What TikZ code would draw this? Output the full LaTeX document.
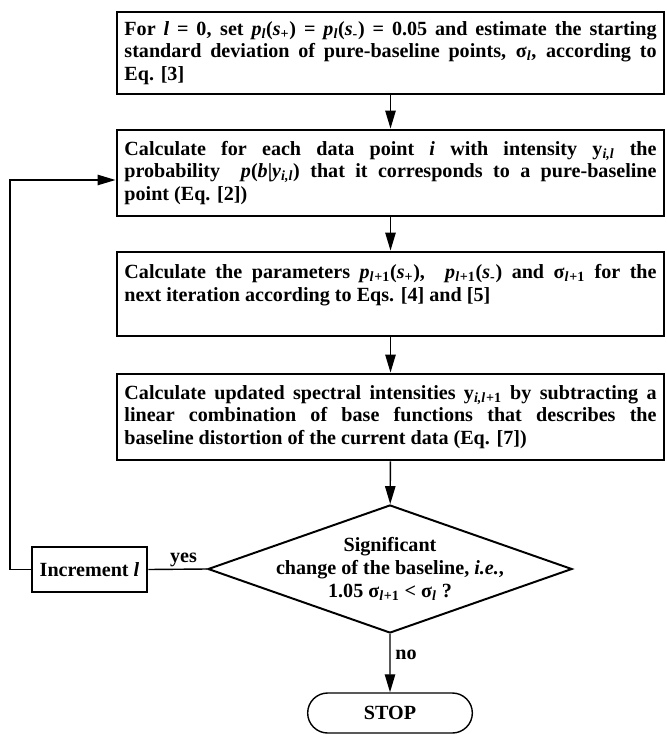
\documentclass[tikz,border=0pt]{standalone}
\usepackage{fontspec}
\setmainfont{Liberation Serif}
\usetikzlibrary{arrows.meta,shapes.geometric,shapes.misc}
\newcommand{\ix}[1]{\textit{#1}}
\newcommand{\sub}[1]{\textsubscript{\textit{#1}}}

\begin{document}
\begin{tikzpicture}[x=0.025cm,y=-0.025cm,
    every node/.style={font=\fontsize{14.3}{16.2}\selectfont\bfseries},
    stepbox/.style={draw,line width=2pt,minimum width=13.675cm,text width=13.3cm,
        inner xsep=0.1875cm,align=justify},
    flow/.style={line width=1pt,-{Triangle[length=0.45cm,width=0.26cm]}},
    link/.style={line width=1pt}]
        \useasboundingbox (0,0) rectangle (666,734);
        \node[stepbox,minimum height=2.05cm] (init) at (390.5,53)
            {For \ix{l} = 0, set \ix{p}\sub{l}(\ix{s}\textsubscript{+}) = \ix{p}\sub{l}(\ix{s}\textsubscript{-}) = 0.05 and estimate the starting\linebreak
             standard deviation of pure-baseline points, σ\sub{l}, according to\linebreak
             Eq. [3]};
        \node[stepbox,minimum height=2.15cm] (prob) at (390.5,173)
            {Calculate for each data point \ix{i} with intensity y\sub{i,l} the\linebreak
             probability \ \ix{p}(\ix{b}|\ix{y}\sub{i,l}) that it corresponds to a pure-baseline\linebreak
             point (Eq. [2])};
        \node[stepbox,minimum height=2.1cm] (param) at (390.5,294)
            {Calculate the parameters \ix{p}\sub{l}\textsubscript{+1}(\ix{s}\textsubscript{+}), \ \ix{p}\sub{l}\textsubscript{+1}(\ix{s}\textsubscript{-}) and σ\sub{l}\textsubscript{+1} for the\linebreak
             next iteration according to Eqs. [4] and [5]\par\mbox{}};
        \node[stepbox,minimum height=2.15cm] (update) at (390.5,417)
            {Calculate updated spectral intensities y\sub{i,l}\textsubscript{+1} by subtracting a\linebreak
             linear combination of base functions that describes the\linebreak
             baseline distortion of the current data (Eq. [7])};
        \node[draw,diamond,line width=1.4pt,aspect=2.84,inner sep=-0.3cm,
            minimum width=9.1cm,minimum height=3.2cm,align=center] (test) at (390,569)
            {Significant\\change of the baseline, \ix{i.e.},\\1.05 σ\sub{l}\textsubscript{+1} < σ\sub{l} ?};
        \node[draw,line width=2pt,minimum width=2.875cm,minimum height=1.125cm] (incr) at (89.5,569.5)
            {Increment \ix{l}};
        \node[draw,rounded rectangle,line width=1pt,minimum width=4.35cm,minimum height=1cm] (stop) at (390,713)
            {STOP};
        \coordinate (loop) at (10,180);
        \draw[flow] (init) -- (prob);
        \draw[flow] (prob) -- (param);
        \draw[flow] (param) -- (update);
        \draw[flow] (update) -- (test);
        \draw[flow] (test) -- node[right,pos=0.35] {no} (stop);
        \draw[link] (test.west) -- node[above,pos=0.4,inner sep=1pt] {yes} (incr.east);
        \draw[flow] (incr.west) -| (loop) -- (loop -| prob.west);
    \end{tikzpicture}
\end{document}
